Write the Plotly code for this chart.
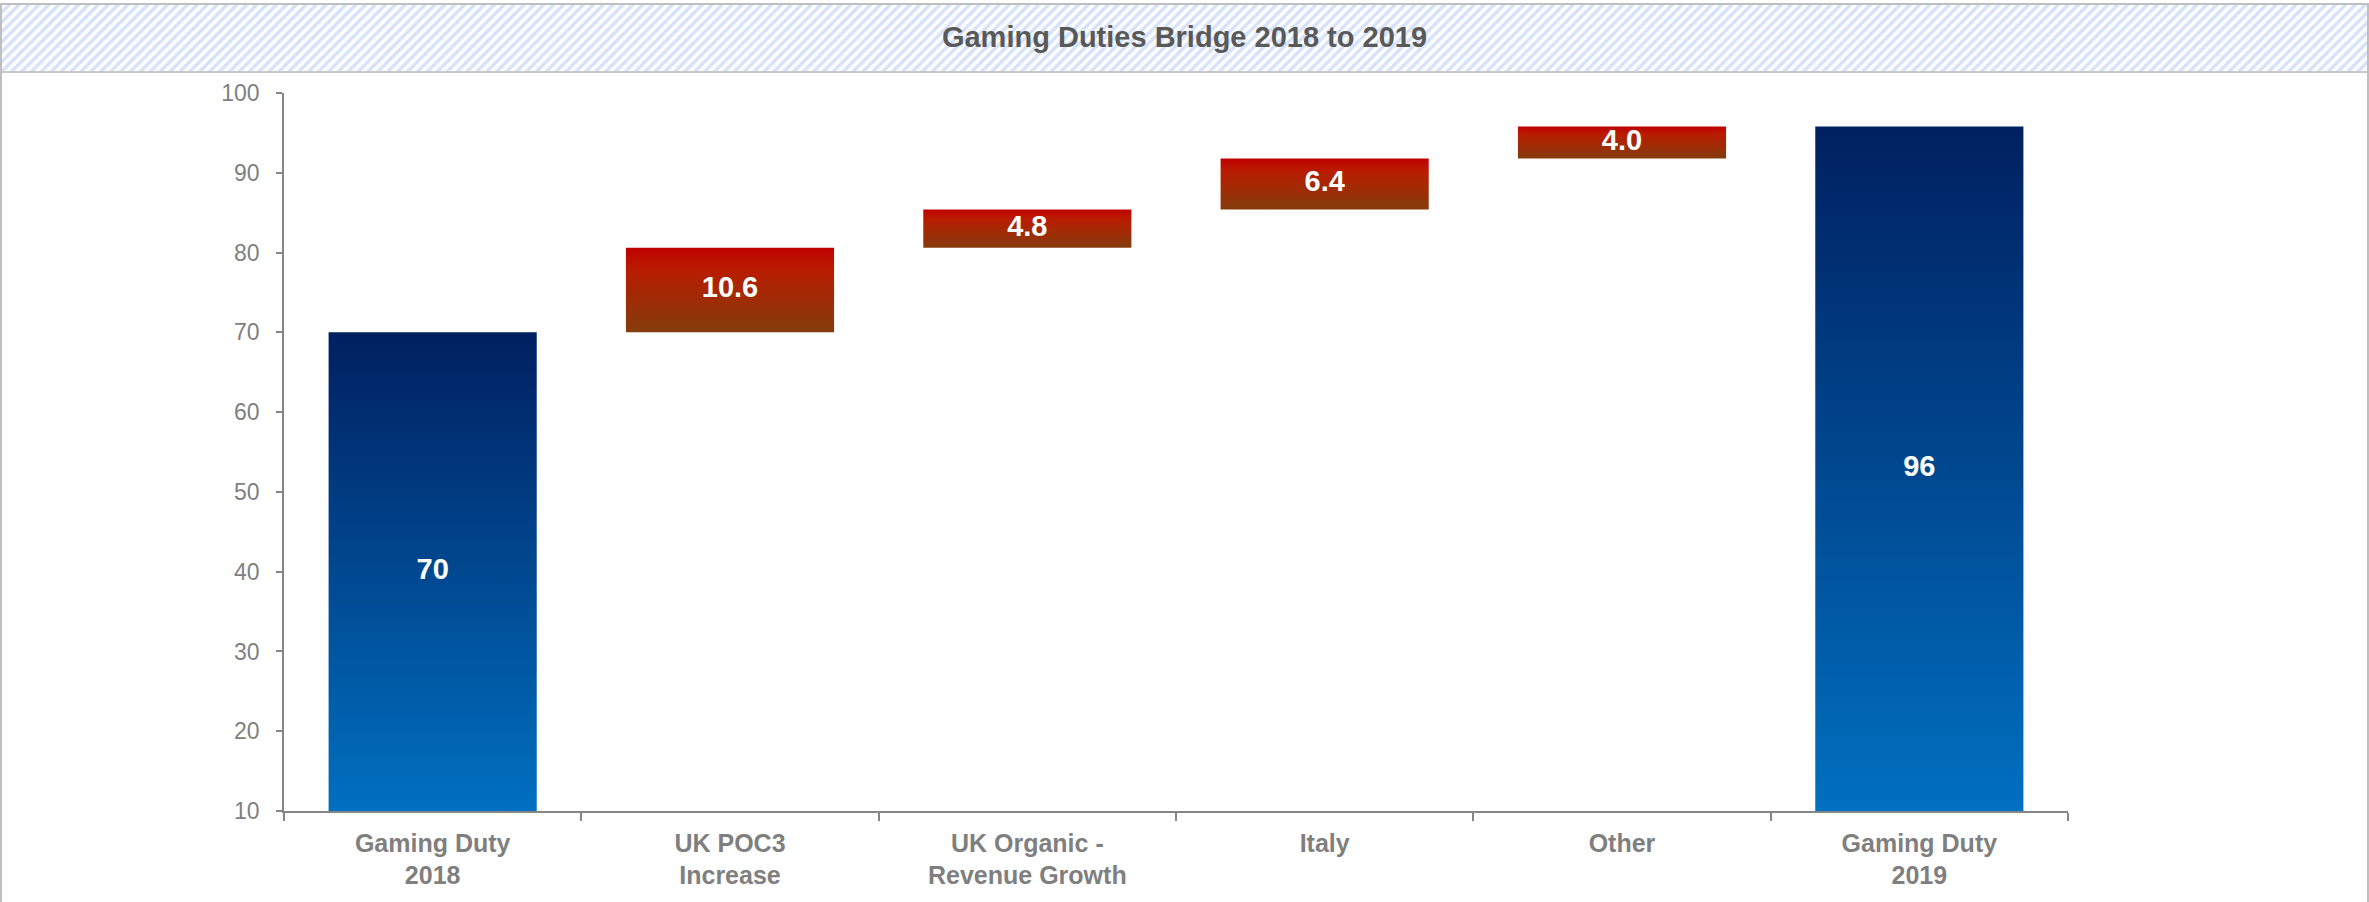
import plotly.graph_objects as go

# ---- data ----
categories = ["Gaming Duty<br>2018", "UK POC3<br>Increase", "UK Organic -<br>Revenue Growth",
              "Italy", "Other", "Gaming Duty<br>2019"]
values = [70.0, 10.6, 4.8, 6.4, 4.0, None]
measures = ["absolute", "relative", "relative", "relative", "relative", "total"]
label_formats = ["{:.0f}", "{:.1f}", "{:.1f}", "{:.1f}", "{:.1f}", "{:.0f}"]
title_text = "Gaming Duties Bridge 2018 to 2019"
axis_floor = 10
y_ticks = list(range(10, 101, 10))

# ---- styling ----
W, H = 2369, 902
FONT = "Arial, Liberation Sans, sans-serif"
GREY = "#7f7f7f"
AXIS = "#868686"
BAR_W = 0.70
BLUE_SCALE = [[0, "#0070C0"], [1, "#002060"]]
RED_SCALE = [[0, "#843C0C"], [0.75, "#B91C00"], [1, "#C00000"]]

fig = go.Figure()

# compute waterfall bases / tops from the data
running = 0.0
bases, tops = [], []
for v, m in zip(values, measures):
    if m == "absolute":
        running = v
        bases.append(axis_floor); tops.append(v)
    elif m == "relative":
        bases.append(running); tops.append(running + v)
        running += v
    else:
        bases.append(axis_floor); tops.append(running)

labels = []
for i, (v, m) in enumerate(zip(values, measures)):
    val = running if m == "total" else v
    labels.append(label_formats[i].format(val))

for i in range(len(categories)):
    b, t = bases[i], tops[i]
    scale = RED_SCALE if measures[i] == "relative" else BLUE_SCALE
    fig.add_trace(go.Scatter(
        x=[i - BAR_W / 2, i + BAR_W / 2, i + BAR_W / 2, i - BAR_W / 2, i - BAR_W / 2],
        y=[b, b, t, t, b],
        mode="lines", fill="toself", line=dict(width=0),
        fillgradient=dict(type="vertical", colorscale=scale),
        hoverinfo="skip", showlegend=False,
    ))

fig.add_trace(go.Scatter(
    x=list(range(len(categories))),
    y=[(b + t) / 2 for b, t in zip(bases, tops)],
    mode="text", text=[f"<b>{s}</b>" for s in labels],
    textfont=dict(family=FONT, size=29, color="white"),
    textposition="middle center", hoverinfo="skip", showlegend=False,
))

# title band (hatched)
fig.add_trace(go.Bar(
    x=[0], y=[1], width=[1], xaxis="x2", yaxis="y2",
    marker=dict(color="white", line=dict(width=0),
                pattern=dict(shape="/", fgcolor="#aec6f4", bgcolor="white", size=7, solidity=0.5)),
    hoverinfo="skip", showlegend=False,
))

band_top = (H - 4) / H
band_bot = (H - 72) / H

fig.update_layout(
    width=W, height=H,
    margin=dict(l=0, r=0, t=0, b=0, autoexpand=False),
    paper_bgcolor="white", plot_bgcolor="rgba(0,0,0,0)",
    title=dict(text=f"<b>{title_text}</b>", x=0.5, xanchor="center",
               y=(H - 37) / H, yanchor="middle", automargin=False,
               font=dict(family=FONT, size=29, color="#595959")),
    xaxis=dict(
        domain=[284 / W, 2068 / W], range=[-0.5, len(categories) - 0.5],
        tickmode="array", tickvals=list(range(len(categories))), ticktext=categories,
        ticks="", showline=True, linecolor=AXIS, linewidth=1.5, automargin=False,
        showgrid=False, zeroline=False, ticklabelstandoff=9,
        tickfont=dict(family=FONT, size=25, color=GREY, weight="bold"),
        minor=dict(tickvals=[k - 0.5 for k in range(len(categories) + 1)],
                   ticks="outside", ticklen=8, tickcolor=AXIS, tickwidth=1.5, showgrid=False),
        fixedrange=True,
    ),
    yaxis=dict(
        domain=[(H - 811) / H, (H - 93) / H], range=[axis_floor, 100],
        tickmode="array", tickvals=y_ticks, automargin=False,
        ticks="outside", ticklen=6, tickcolor=AXIS, tickwidth=1.5,
        showline=True, linecolor=AXIS, linewidth=1.5,
        showgrid=False, zeroline=False, ticklabelstandoff=12,
        tickfont=dict(family=FONT, size=23, color=GREY),
        fixedrange=True,
    ),
    xaxis2=dict(domain=[0, 1], range=[-0.5, 0.5], visible=False, anchor="y2",
                fixedrange=True, automargin=False),
    yaxis2=dict(domain=[band_bot, band_top], range=[0, 1], visible=False, anchor="x2",
                fixedrange=True, automargin=False),
    bargap=0,
    shapes=[
        dict(type="line", xref="paper", yref="paper", x0=0, x1=1, y0=band_top, y1=band_top,
             line=dict(color="#bfbfbf", width=2)),
        dict(type="line", xref="paper", yref="paper", x0=0, x1=1, y0=band_bot, y1=band_bot,
             line=dict(color="#c8c8c8", width=2)),
        dict(type="line", xref="paper", yref="paper", x0=1 / W, x1=1 / W, y0=0, y1=band_top,
             line=dict(color="#bfbfbf", width=2)),
        dict(type="line", xref="paper", yref="paper", x0=(W - 1) / W, x1=(W - 1) / W, y0=0, y1=band_top,
             line=dict(color="#bfbfbf", width=2)),
    ],
)

fig.write_html("out.html", config={"displayModeBar": False})
